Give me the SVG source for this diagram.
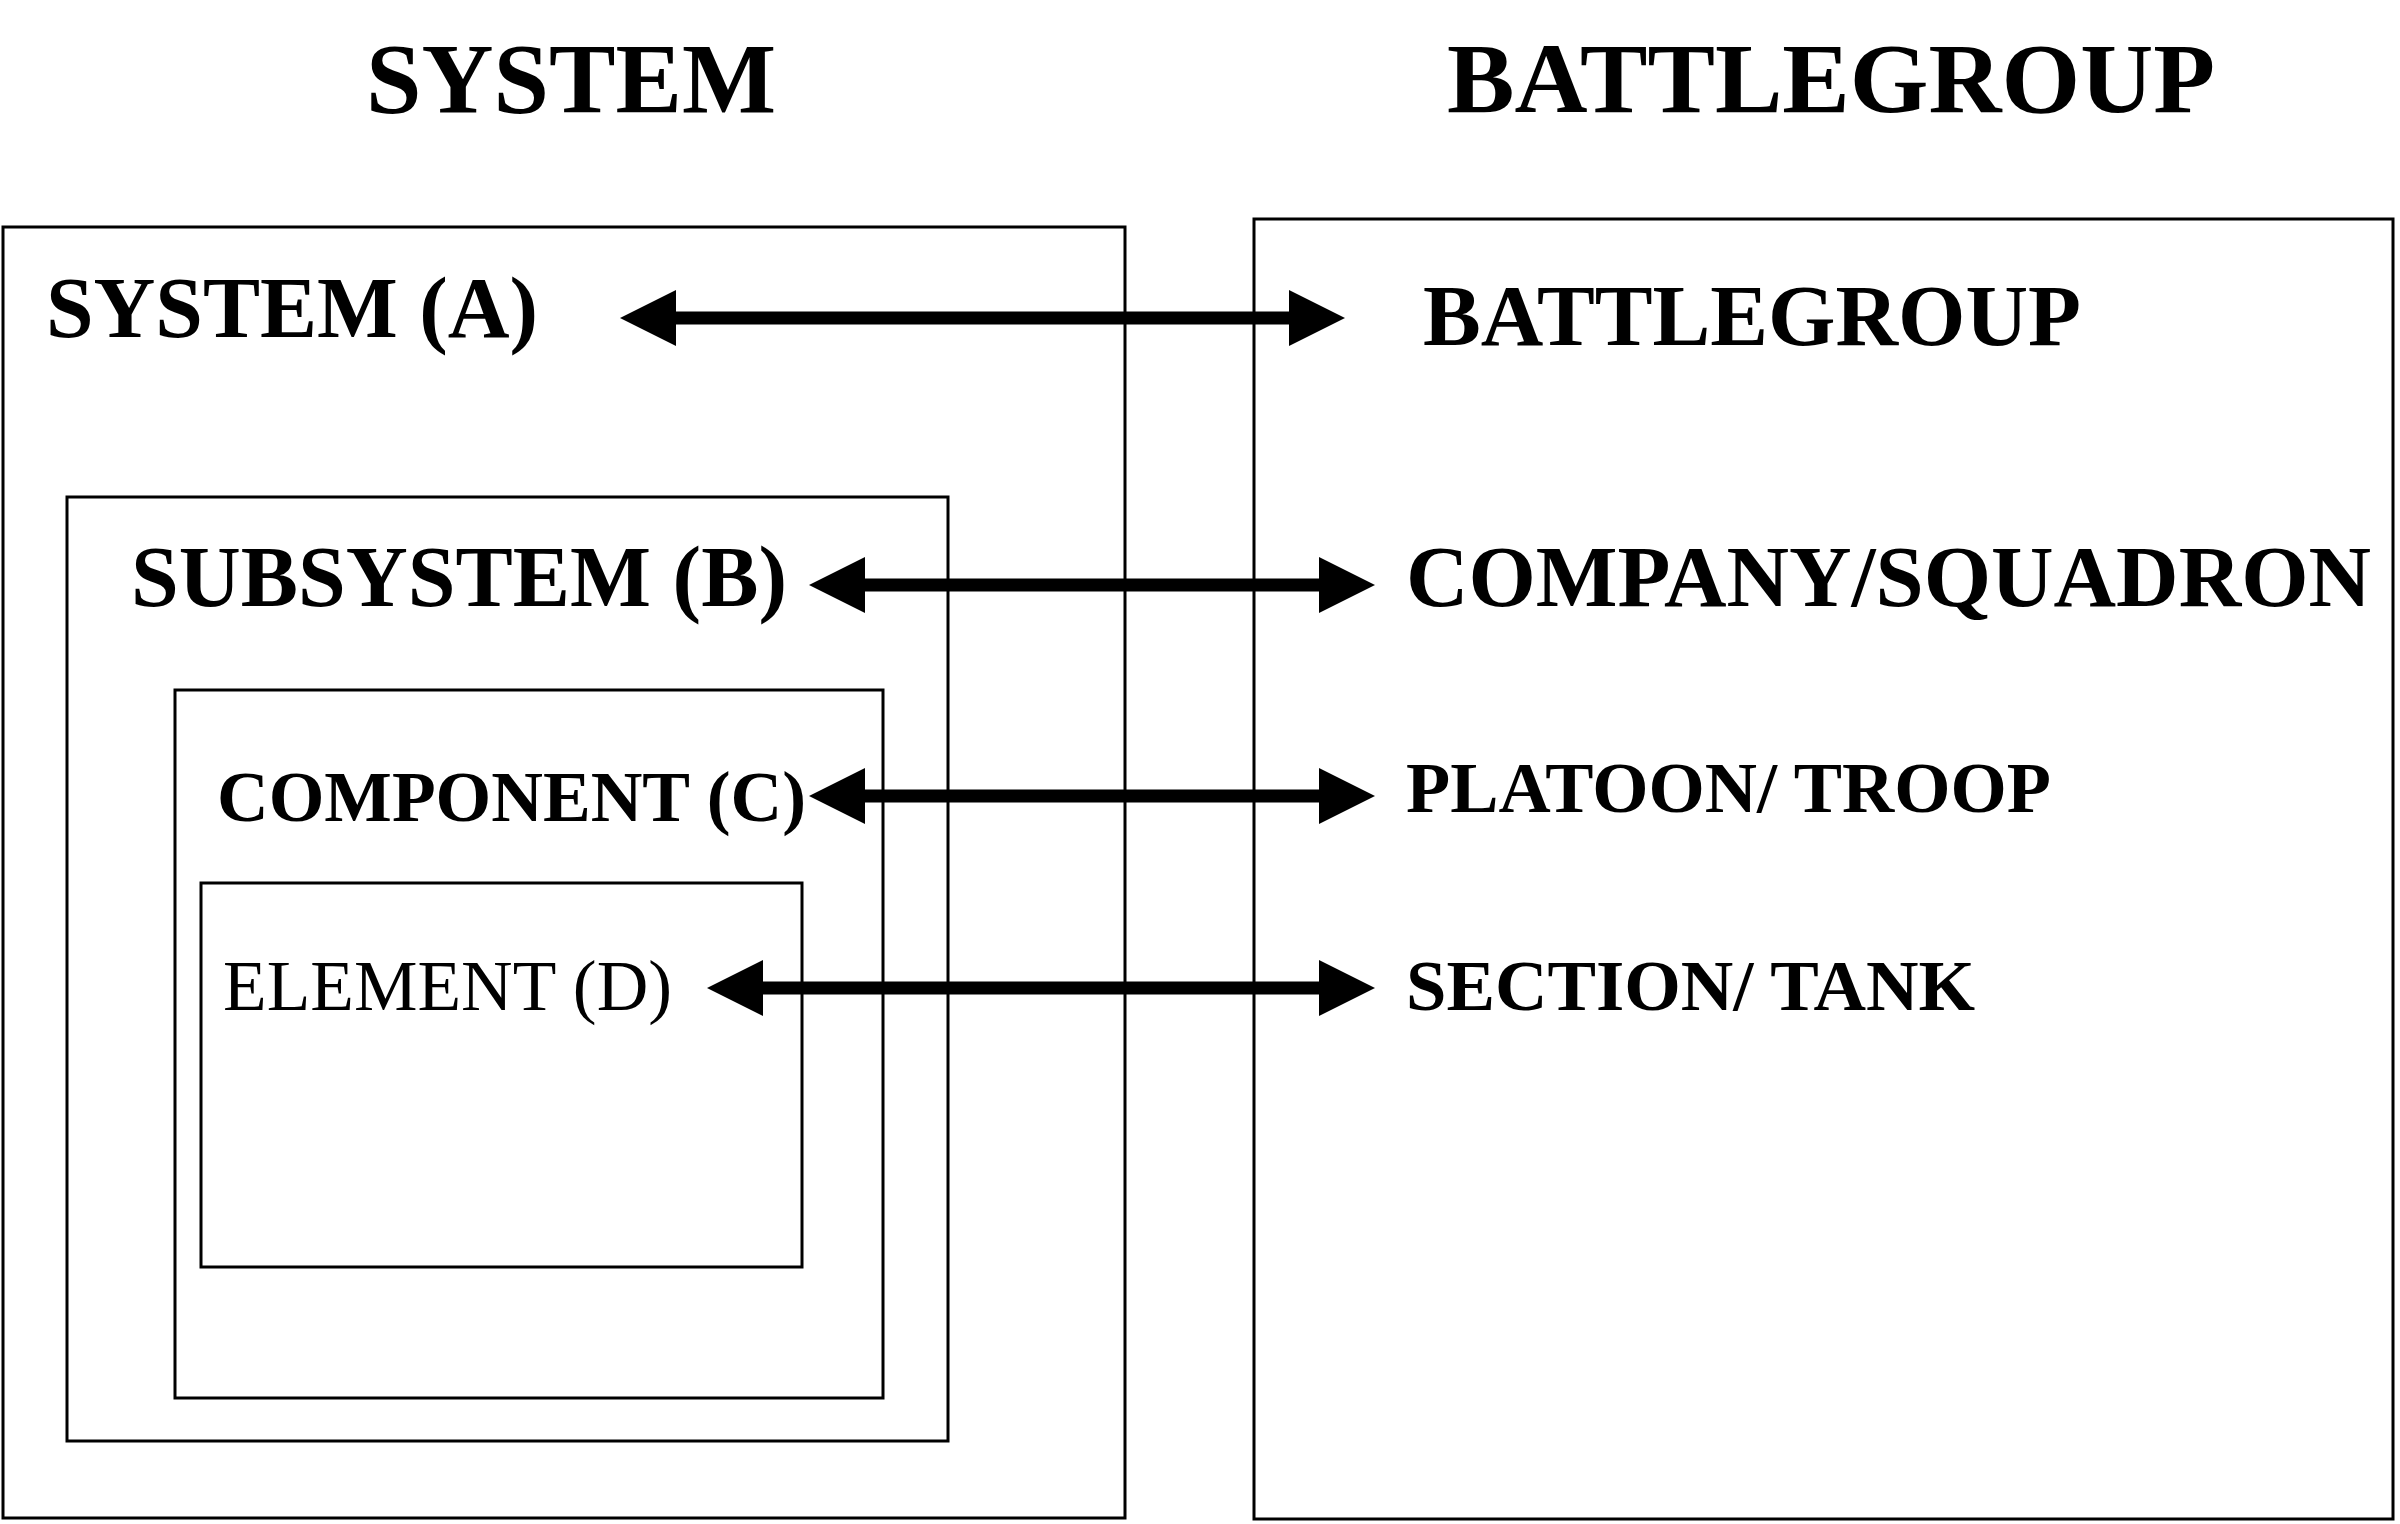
<svg xmlns="http://www.w3.org/2000/svg" width="2400" height="1524" viewBox="0 0 2400 1524">
<style>
.box{fill:none;stroke:#000;stroke-width:3}
.t{font-family:"Liberation Serif","Times New Roman",serif;fill:#000}
.b{font-weight:bold}
.arr{fill:#000}
</style>
<rect width="2400" height="1524" fill="#fff"/>
<text class="t b" x="366" y="112" font-size="100" textLength="410" lengthAdjust="spacingAndGlyphs">SYSTEM</text>
<text class="t b" x="1447" y="112" font-size="100" textLength="768" lengthAdjust="spacingAndGlyphs">BATTLEGROUP</text>
<g id="system-a">
<rect class="box" x="3" y="227" width="1122" height="1291"/>
<text class="t b" x="46" y="337" font-size="86" textLength="492" lengthAdjust="spacingAndGlyphs">SYSTEM (A)</text>
</g>
<g id="subsystem-b">
<rect class="box" x="67" y="497" width="881" height="944"/>
<text class="t b" x="131" y="606" font-size="86" textLength="656" lengthAdjust="spacingAndGlyphs">SUBSYSTEM (B)</text>
</g>
<g id="component-c">
<rect class="box" x="175" y="690" width="708" height="708"/>
<text class="t b" x="217" y="821" font-size="71" textLength="589" lengthAdjust="spacingAndGlyphs">COMPONENT (C)</text>
</g>
<g id="element-d">
<rect class="box" x="201" y="883" width="601" height="384"/>
<text class="t" x="223" y="1010" font-size="71" textLength="449" lengthAdjust="spacingAndGlyphs">ELEMENT (D)</text>
</g>
<g id="battlegroup">
<rect class="box" x="1254" y="219" width="1139" height="1300"/>
<text class="t b" x="1423" y="345" font-size="86" textLength="658" lengthAdjust="spacingAndGlyphs">BATTLEGROUP</text>
</g>
<g id="company">
<text class="t b" x="1406" y="606" font-size="86" textLength="965" lengthAdjust="spacingAndGlyphs">COMPANY/SQUADRON</text>
</g>
<g id="platoon">
<text class="t b" x="1406" y="812" font-size="71" textLength="645" lengthAdjust="spacingAndGlyphs">PLATOON/ TROOP</text>
</g>
<g id="section">
<text class="t b" x="1406" y="1010" font-size="71" textLength="569" lengthAdjust="spacingAndGlyphs">SECTION/ TANK</text>
</g>
<g id="connectors">
<polygon class="arr" points="620,318 676,290 676,311.5 1289,311.5 1289,290 1345,318 1289,346 1289,324.5 676,324.5 676,346"/>
<polygon class="arr" points="809,585 865,557 865,578.5 1319,578.5 1319,557 1375,585 1319,613 1319,591.5 865,591.5 865,613"/>
<polygon class="arr" points="809,796 865,768 865,789.5 1319,789.5 1319,768 1375,796 1319,824 1319,802.5 865,802.5 865,824"/>
<polygon class="arr" points="707,988 763,960 763,981.5 1319,981.5 1319,960 1375,988 1319,1016 1319,994.5 763,994.5 763,1016"/>
</g>
</svg>
